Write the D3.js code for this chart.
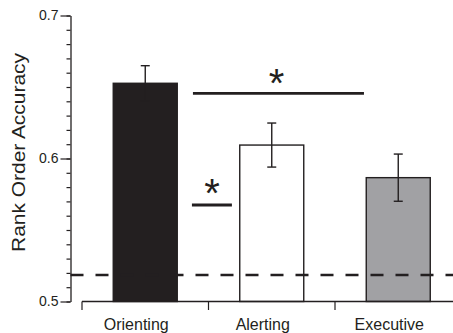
<!DOCTYPE html>
<html>
<head>
<meta charset="utf-8">
<script src="https://cdn.jsdelivr.net/npm/d3@7"></script>
<style>
  html, body { margin: 0; padding: 0; background: #fff; }
  svg { display: block; font-family: "Liberation Sans", Arial, Helvetica, sans-serif; }
</style>
</head>
<body>
<svg id="chart" width="453" height="333"></svg>
<script>
// Attention network conditions and their mean rank order accuracy (± SEM)
const categories = ["Orienting", "Alerting", "Executive"];
const means = [0.6526, 0.6094, 0.5866];
const sems = [0.0123, 0.0154, 0.0165];
const fills = ["#231f20", "#ffffff", "#a1a1a4"];
const chanceLevel = 0.5185;
const yTickLabels = [0.5, 0.6, 0.7];
const yMinorTicks = d3.range(0, 21).map(i => +(0.5 + i * 0.01).toFixed(2));

// Significance brackets: level in accuracy units, span in category-index units
const comparisons = [
  { level: 0.6456, from: 0.377, to: 1.729, star: 1.038, starLevel: 0.6631 },
  { level: 0.5675, from: 0.369, to: 0.685, star: 0.527, starLevel: 0.5862 }
];

const svg = d3.select("#chart");

const y = d3.scaleLinear().domain([0.5, 0.7]).range([301.5, 15.5]);
const x = d3.scaleBand().domain(categories).range([82, 461.5]).padding(0);
const barW = 64;
// category index -> pixel position of the band centre
const xi = d3.scaleLinear().domain([0, 1]).range([
  x(categories[0]) + x.bandwidth() / 2,
  x(categories[1]) + x.bandwidth() / 2
]);

// Bars
svg.append("g").selectAll("rect")
  .data(categories)
  .join("rect")
  .attr("x", d => x(d) + (x.bandwidth() - barW) / 2)
  .attr("y", (d, i) => y(means[i]))
  .attr("width", barW)
  .attr("height", (d, i) => y(0.5) - y(means[i]))
  .attr("fill", (d, i) => fills[i])
  .attr("stroke", "#231f20")
  .attr("stroke-width", 1.4);

// Error bars
const eb = svg.append("g").attr("stroke", "#231f20").attr("stroke-width", 1.4);
categories.forEach((c, i) => {
  const cx = x(c) + x.bandwidth() / 2;
  const hi = y(means[i] + sems[i]), lo = y(means[i] - sems[i]);
  eb.append("line").attr("x1", cx).attr("x2", cx).attr("y1", hi).attr("y2", lo);
  eb.append("line").attr("x1", cx - 4.5).attr("x2", cx + 4.5).attr("y1", hi).attr("y2", hi);
  eb.append("line").attr("x1", cx - 4.5).attr("x2", cx + 4.5).attr("y1", lo).attr("y2", lo);
});

// Chance level
svg.append("line")
  .attr("x1", 70.5).attr("x2", 453)
  .attr("y1", y(chanceLevel)).attr("y2", y(chanceLevel))
  .attr("stroke", "#231f20")
  .attr("stroke-width", 2.6)
  .attr("stroke-dasharray", "13,12");

// Significance markers
comparisons.forEach(cmp => {
  svg.append("line")
    .attr("x1", xi(cmp.from)).attr("x2", xi(cmp.to))
    .attr("y1", y(cmp.level)).attr("y2", y(cmp.level))
    .attr("stroke", "#231f20").attr("stroke-width", 2.8);
  svg.append("text")
    .attr("x", xi(cmp.star))
    .attr("y", y(cmp.starLevel))
    .attr("text-anchor", "middle")
    .attr("font-size", 40)
    .attr("dy", "0.72em")
    .attr("fill", "#231f20")
    .text("*");
});

// Y axis: minor ticks every 0.01, labelled ticks every 0.1
const yAxisG = svg.append("g").attr("transform", "translate(70.5,0)");
yAxisG.append("g")
  .call(d3.axisLeft(y).tickValues(yMinorTicks).tickSize(4).tickSizeOuter(0).tickFormat(""))
  .call(g => g.select(".domain").attr("stroke", "#231f20").attr("stroke-width", 1.3))
  .call(g => g.selectAll(".tick line").attr("stroke", "#231f20").attr("stroke-width", 1.2));
yAxisG.append("g")
  .call(d3.axisLeft(y).tickValues(yTickLabels).tickSize(10).tickSizeOuter(0).tickPadding(2)
    .tickFormat(d3.format(".1f")))
  .call(g => g.select(".domain").remove())
  .call(g => g.selectAll(".tick line").attr("stroke", "#231f20").attr("stroke-width", 1.2))
  .call(g => g.selectAll(".tick text")
    .attr("font-size", 14)
    .attr("fill", "#231f20")
    .attr("font-family", "Liberation Sans, Arial, sans-serif"));

// X axis: baseline with ticks at the category boundaries
const xAxisG = svg.append("g").attr("transform", `translate(0,${y(0.5)})`);
xAxisG.append("line")
  .attr("x1", x.range()[0]).attr("x2", 453)
  .attr("stroke", "#231f20").attr("stroke-width", 1.3);
xAxisG.selectAll("line.tick")
  .data(categories)
  .join("line")
  .attr("class", "tick")
  .attr("x1", d => x(d)).attr("x2", d => x(d))
  .attr("y1", 0).attr("y2", 8.5)
  .attr("stroke", "#231f20").attr("stroke-width", 1.2);
xAxisG.selectAll("text")
  .data(categories)
  .join("text")
  .attr("x", d => x(d) + x.bandwidth() / 2 - 9)
  .attr("y", 28)
  .attr("text-anchor", "middle")
  .attr("font-size", 16)
  .attr("fill", "#231f20")
  .text(d => d);

// Y axis title
svg.append("text")
  .attr("transform", "translate(25,152.5) rotate(-90)")
  .attr("text-anchor", "middle")
  .attr("font-size", 18)
  .attr("textLength", 199)
  .attr("lengthAdjust", "spacingAndGlyphs")
  .attr("fill", "#231f20")
  .text("Rank Order Accuracy");
</script>
</body>
</html>
